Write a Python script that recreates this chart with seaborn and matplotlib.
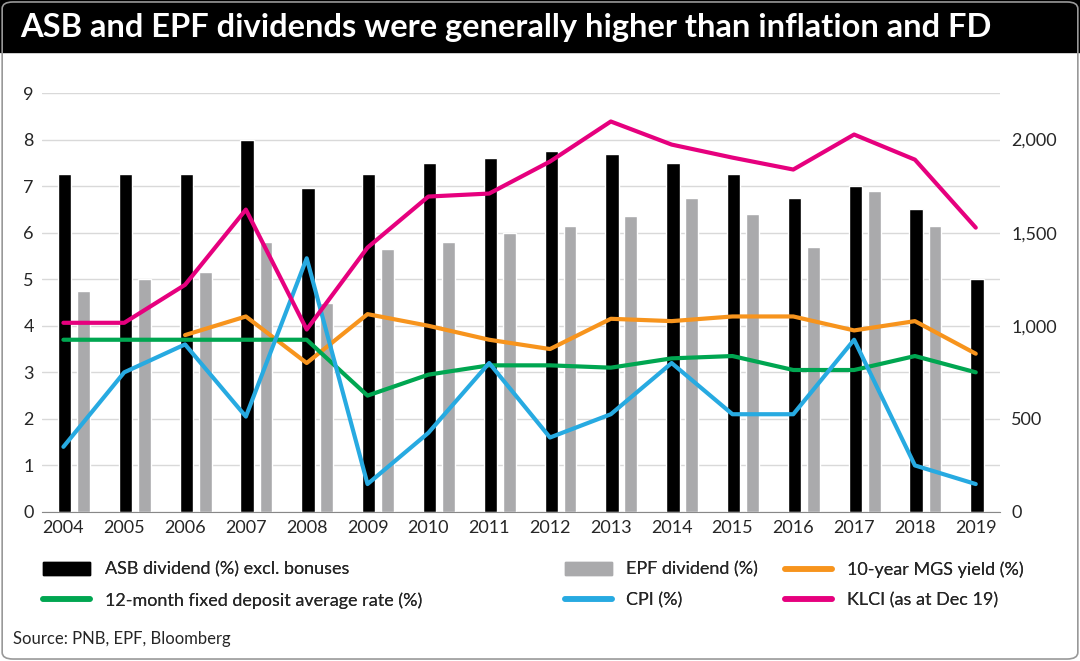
import numpy as np
import pandas as pd
import seaborn as sns
import matplotlib.pyplot as plt
from matplotlib.patches import Rectangle, FancyBboxPatch
from matplotlib.lines import Line2D
from matplotlib.patches import Patch

years = list(range(2004, 2020))
asb = [7.25, 7.25, 7.25, 8.0, 6.95, 7.25, 7.5, 7.6, 7.75, 7.7, 7.5, 7.25, 6.75, 7.0, 6.5, 5.0]
epf = [4.75, 5.0, 5.15, 5.8, 4.5, 5.65, 5.8, 6.0, 6.15, 6.35, 6.75, 6.4, 5.7, 6.9, 6.15, np.nan]
mgs = [np.nan, np.nan, 3.8, 4.2, 3.2, 4.25, 4.0, 3.7, 3.5, 4.15, 4.1, 4.2, 4.2, 3.9, 4.1, 3.4]
fd = [3.7, 3.7, 3.7, 3.7, 3.7, 2.5, 2.95, 3.15, 3.15, 3.1, 3.3, 3.35, 3.05, 3.05, 3.35, 3.0]
cpi = [1.4, 3.0, 3.6, 2.05, 5.45, 0.6, 1.7, 3.2, 1.6, 2.1, 3.2, 2.1, 2.1, 3.7, 1.0, 0.6]
klci = [1016, 1016, 1220, 1624, 980, 1420, 1694, 1710, 1882, 2097, 1973, 1903, 1839, 2027, 1892, 1527]

df = pd.DataFrame({'year': years, 'mgs': mgs, 'fd': fd, 'cpi': cpi, 'klci': klci})

sns.set_style('white')
plt.rcParams['font.family'] = ['Lato', 'DejaVu Sans']

C_MGS, C_FD, C_CPI, C_KLCI = '#f7941d', '#00a651', '#27aae1', '#e6007e'

fig = plt.figure(figsize=(10.8, 6.61), dpi=100)
fig.patches.append(Rectangle((0, 1 - 52 / 661), 1, 52 / 661, transform=fig.transFigure,
                             color='black', zorder=0))
fig.text(0.019, 1 - 27 / 661, 'ASB and EPF dividends were generally higher than inflation and FD',
         color='white', fontsize=23.5, fontweight='bold', ha='left', va='center')
fig.patches.append(FancyBboxPatch((0.002, 0.003), 0.996, 0.994, boxstyle='round,pad=0,rounding_size=0.01',
                                  transform=fig.transFigure, fill=False, ec='#999999', lw=1.2))

ax = fig.add_axes([0.039, 1 - 512 / 661, 0.887, 419 / 661])
ax.bar(np.array(years) + 0.02, asb, width=0.22, color='black', zorder=2)
ax.bar(np.array(years) + 0.33, epf, width=0.21, color='#aaaaac', zorder=2)
sns.lineplot(data=df, x='year', y='mgs', ax=ax, color=C_MGS, lw=3, zorder=3)
sns.lineplot(data=df, x='year', y='fd', ax=ax, color=C_FD, lw=3, zorder=3)
sns.lineplot(data=df, x='year', y='cpi', ax=ax, color=C_CPI, lw=3, zorder=3)
ax.set_ylim(0, 9)
ax.set_xlim(2003.65, 2019.4)
ax.set_yticks(range(10))
ax.set_xticks(years)
ax.set_xticklabels([str(y) for y in years])
ax.grid(axis='y', color='#d9d9d9', lw=1, zorder=0)
ax.set_axisbelow(True)
ax.set_xlabel('')
ax.set_ylabel('')
for s in ax.spines.values():
    s.set_visible(False)
ax.spines['bottom'].set_visible(True)
ax.spines['bottom'].set_color('#888888')
ax.tick_params(labelsize=13, length=0, pad=6)

ax2 = ax.twinx()
sns.lineplot(data=df, x='year', y='klci', ax=ax2, color=C_KLCI, lw=3, zorder=3)
ax2.set_ylim(0, 2250)
ax2.set_yticks([0, 500, 1000, 1500, 2000])
ax2.set_yticklabels(['0', '500', '1,000', '1,500', '2,000'])
ax2.set_ylabel('')
for s in ax2.spines.values():
    s.set_visible(False)
ax2.tick_params(labelsize=13, length=0, pad=8)

handles = [Patch(color='black'), Line2D([], [], color=C_FD, lw=4),
           Patch(color='#aaaaac'), Line2D([], [], color=C_CPI, lw=4),
           Line2D([], [], color=C_MGS, lw=4), Line2D([], [], color=C_KLCI, lw=4)]
labels = ['ASB dividend (%) excl. bonuses', '12-month fixed deposit average rate (%)',
          'EPF dividend (%)', 'CPI (%)', '10-year MGS yield (%)', 'KLCI (as at Dec 19)']
for k, xpos in enumerate([0.025, 0.508, 0.712]):
    leg = fig.legend(handles[2 * k:2 * k + 2], labels[2 * k:2 * k + 2], frameon=False,
                     loc='upper left', bbox_to_anchor=(xpos, 0.175), fontsize=13,
                     handlelength=2.6, labelspacing=0.8)
    fig.add_artist(leg)

fig.text(0.012, 0.025, 'Source: PNB, EPF, Bloomberg', fontsize=12)
fig.savefig('out.png', dpi=100)
